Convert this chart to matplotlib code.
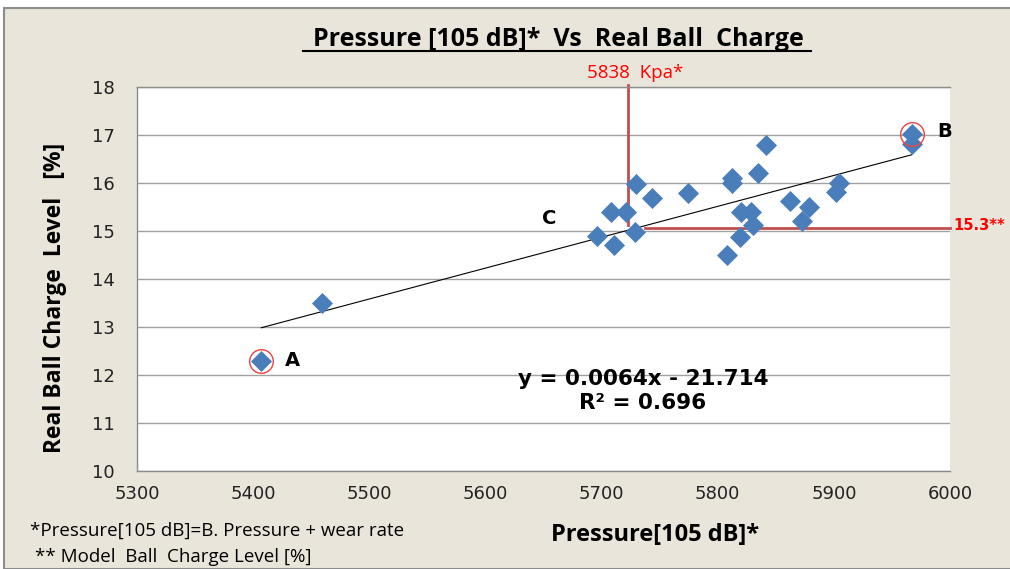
import numpy as np
import matplotlib
matplotlib.use("Agg")
import matplotlib.pyplot as plt
from matplotlib.patches import Rectangle
from matplotlib.lines import Line2D

# ---- data ----
pressure = [5407, 5459, 5696, 5711, 5708, 5721, 5729, 5730, 5743, 5774,
            5808, 5819, 5812, 5812, 5820, 5829, 5830, 5835, 5842, 5862,
            5879, 5873, 5902, 5904, 5967, 5967]
charge = [12.3, 13.5, 14.9, 14.71, 15.4, 15.4, 14.98, 15.98, 15.69, 15.79,
          14.5, 14.88, 16.1, 16.0, 15.4, 15.4, 15.13, 16.2, 16.79, 15.63,
          15.49, 15.21, 15.82, 16.0, 17.02, 16.81]
point_A = (5407, 12.3)
point_B = (5967, 17.02)
point_C_label = (5655, 15.25)
ref_pressure = 5723
ref_level = 15.07
x_ticks = [5300, 5400, 5500, 5600, 5700, 5800, 5900, 6000]
y_ticks = [10, 11, 12, 13, 14, 15, 16, 17, 18]
eq_text = "y = 0.0064x - 21.714"
r2_text = "R² = 0.696"
title = "Pressure [105 dB]*  Vs  Real Ball  Charge"
xlabel = "Pressure[105 dB]*"
ylabel = "Real Ball Charge  Level   [%]"
foot1 = "*Pressure[105 dB]=B. Pressure + wear rate"
foot2 = "** Model  Ball  Charge Level [%]"
ref_p_label = "5838  Kpa*"
ref_l_label = "15.3**"

W, H = 1010, 569
fig = plt.figure(figsize=(W / 100, H / 100), dpi=100, facecolor="white")

narrow = ["Liberation Sans Narrow", "Open Sans", "DejaVu Sans"]

# beige chart background with grey border
fig.add_artist(Rectangle((4 / W, 0), 1.2, 1 - 8 / H, transform=fig.transFigure,
                         facecolor="#E9E5DA", edgecolor="#8C8C8C", lw=1.5, zorder=0))

def fx(px):
    return px / W

def fy(py):
    return 1 - py / H

ax = fig.add_axes([fx(137), fy(471), fx(950) - fx(137), fy(87) - fy(471)])
ax.set_facecolor("white")
ax.set_xlim(5300, 6000)
ax.set_ylim(10, 18)
ax.set_xticks(x_ticks)
ax.set_yticks(y_ticks)
ax.tick_params(length=0, labelsize=13, colors="#222222")
ax.tick_params(axis="y", pad=16)
ax.tick_params(axis="x", pad=10)
for s in ax.spines.values():
    s.set_color("#8C8C8C")
    s.set_linewidth(1)
ax.spines["right"].set_visible(False)
ax.yaxis.grid(True, color="#A0A0A0", lw=1)
ax.set_axisbelow(True)

# trend line from least-squares fit
coef = np.polyfit(pressure, charge, 1)
xs = np.array([min(pressure), max(pressure)])
ax.plot(xs, np.polyval(coef, xs), color="black", lw=0.8, zorder=2)

ax.scatter(pressure, charge, marker="D", s=115, color="#4A7EBB", zorder=3,
           linewidths=0)

# red circles
for p in (point_A, point_B):
    ax.plot(*p, marker="o", ms=17, mfc="none", mec="#F04040", mew=1.0, zorder=4)

# reference lines
ax.plot([ref_pressure, ref_pressure], [15.12, 18.05], color="#C0504D", lw=2,
        zorder=2.5, clip_on=False)
ax.plot([5737, 6000], [ref_level, ref_level], color="#C0504D", lw=2, zorder=2.5,
        clip_on=False)

ax.text(point_A[0] + 20, point_A[1], "A", fontsize=14, fontweight="bold",
        va="center", ha="left")
ax.text(point_B[0] + 22, point_B[1] + 0.05, "B", fontsize=14, fontweight="bold",
        va="center", ha="left")
ax.text(*point_C_label, "C", fontsize=14, fontweight="bold", va="center", ha="center")

fig.text(fx(643), fy(391), eq_text + "\n" + r2_text,
         fontsize=15.5, fontweight="bold", ha="center", va="center", linespacing=1.3)

# figure texts
fig.text(fx(558), fy(39), title, fontsize=18, fontweight="bold", family=narrow,
         ha="center", va="center")
fig.add_artist(Line2D([fx(303), fx(811)], [fy(51), fy(51)], color="black", lw=1.5))
fig.text(fx(635), fy(73), ref_p_label, fontsize=13.5, color="#FF0000", family=narrow,
         ha="center", va="center")
fig.text(fx(953), fy(226), ref_l_label, fontsize=10.5, color="#FF0000",
         fontweight="bold", ha="left", va="center")
fig.text(fx(655), fy(535), xlabel, fontsize=17, fontweight="bold", family=narrow,
         ha="center", va="center")
fig.text(fx(55), fy(298), ylabel, fontsize=16.5, fontweight="bold", family=narrow,
         rotation=90, ha="center", va="center")
fig.text(fx(30), fy(531), foot1, fontsize=13.5, family=narrow, ha="left", va="center")
fig.text(fx(35), fy(557), foot2, fontsize=13.5, family=narrow, ha="left", va="center")

fig.savefig("out.png", dpi=100, facecolor=fig.get_facecolor())
